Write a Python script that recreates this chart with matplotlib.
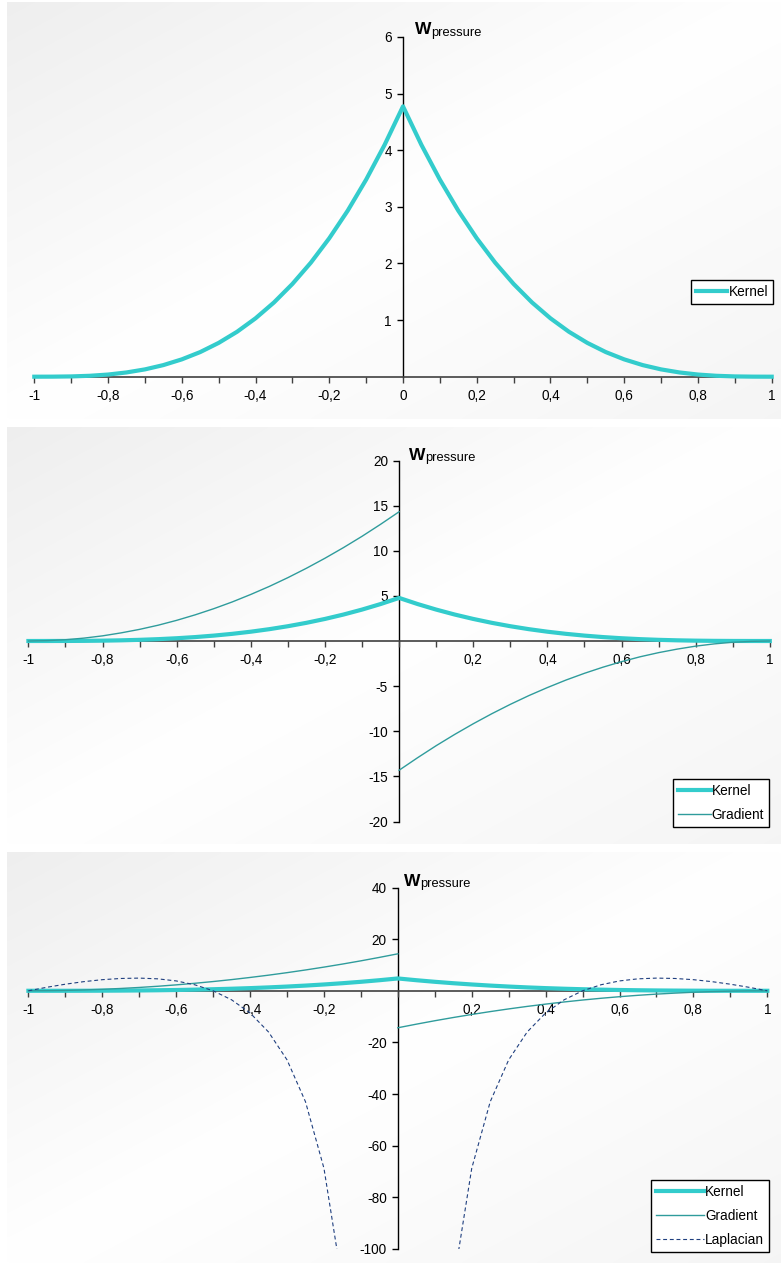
import numpy as np
import matplotlib
matplotlib.use("Agg")
import matplotlib.pyplot as plt

plt.rcParams['font.family'] = ['Liberation Sans', 'DejaVu Sans']

# ---------------- data ----------------
x_left = [-1.00, -0.95, -0.90, -0.85, -0.80, -0.75, -0.70, -0.65, -0.60, -0.55, -0.50,
          -0.45, -0.40, -0.35, -0.30, -0.25, -0.20, -0.15, -0.10, -0.05, 0.00]
x_right = [0.00, 0.05, 0.10, 0.15, 0.20, 0.25, 0.30, 0.35, 0.40, 0.45, 0.50,
           0.55, 0.60, 0.65, 0.70, 0.75, 0.80, 0.85, 0.90, 0.95, 1.00]

kernel_left = [0.000, 0.001, 0.005, 0.016, 0.038, 0.075, 0.129, 0.205, 0.306, 0.435, 0.597,
               0.794, 1.031, 1.311, 1.638, 2.014, 2.445, 2.932, 3.481, 4.094, 4.775]
kernel_right = [4.775, 4.094, 3.481, 2.932, 2.445, 2.014, 1.638, 1.311, 1.031, 0.794, 0.597,
                0.435, 0.306, 0.205, 0.129, 0.075, 0.038, 0.016, 0.005, 0.001, 0.000]

gradient_left = [0.00, 0.04, 0.14, 0.32, 0.57, 0.90, 1.29, 1.75, 2.29, 2.90, 3.58,
                 4.33, 5.16, 6.05, 7.02, 8.06, 9.17, 10.35, 11.60, 12.93, 14.32]
gradient_right = [-14.32, -12.93, -11.60, -10.35, -9.17, -8.06, -7.02, -6.05, -5.16, -4.33, -3.58,
                  -2.90, -2.29, -1.75, -1.29, -0.90, -0.57, -0.32, -0.14, -0.04, 0.00]

laplacian_left = [0.00, 1.36, 2.55, 3.54, 4.30, 4.77, 4.91, 4.63, 3.82, 2.34, 0.00,
                  -3.50, -8.59, -15.96, -26.74, -42.97, -68.75, -113.6, None, None, None]
laplacian_right = [None, None, None, -113.6, -68.75, -42.97, -26.74, -15.96, -8.59, -3.50, 0.00,
                   2.34, 3.82, 4.63, 4.91, 4.77, 4.30, 3.54, 2.55, 1.36, 0.00]

series_labels = ["Kernel", "Gradient", "Laplacian"]
y_title_main = "W"
y_title_sub = "pressure"

x_major = [-1.0, -0.8, -0.6, -0.4, -0.2, 0.0, 0.2, 0.4, 0.6, 0.8, 1.0]
x_minor = [-0.9, -0.7, -0.5, -0.3, -0.1, 0.1, 0.3, 0.5, 0.7, 0.9]
y_ticks_1 = [1, 2, 3, 4, 5, 6]
y_ticks_2 = [-20, -15, -10, -5, 5, 10, 15, 20]
y_ticks_3 = [-100, -80, -60, -40, -20, 20, 40]

# ---------------- styling ----------------
C_KERNEL = '#33cccc'
C_GRAD = '#2f9c9c'
C_LAP = '#1f3f7f'
FS = 9.8

W, H = 781, 1263
fig = plt.figure(figsize=(W / 100, H / 100), dpi=100)
fig.patch.set_facecolor('white')


def fbox(x0, y0, x1, y1):
    return [x0 / W, 1 - y1 / H, (x1 - x0) / W, (y1 - y0) / H]


def background(x0, y0, x1, y1):
    bg = fig.add_axes(fbox(x0, y0, x1, y1), zorder=-10)
    n = 200
    jj, ii = np.meshgrid(np.linspace(0, 1, n), np.linspace(0, 1, n))
    t = (jj + ii) / 2.0
    g = np.where(t < 0.5, 0.935 + 0.065 * (t / 0.5), 1.0 - 0.04 * ((t - 0.5) / 0.5))
    img = np.dstack([g, g, g])
    bg.imshow(img, aspect='auto', extent=[0, 1, 0, 1], interpolation='bilinear')
    bg.set_axis_off()


def arr(v):
    return np.array([np.nan if a is None else a for a in v], dtype=float)


def fmt(v):
    s = f"{v:g}"
    return s.replace('.', ',')


def setup_axes(rect, ylim, yticks, show_zero_label):
    ax = fig.add_axes(rect)
    ax.set_facecolor('none')
    ax.set_xlim(-1, 1)
    ax.set_ylim(*ylim)
    for s in ['top', 'right']:
        ax.spines[s].set_visible(False)
    ax.spines['left'].set_position(('data', 0))
    ax.spines['bottom'].set_position(('data', 0))
    ax.spines['left'].set_color('black')
    ax.spines['bottom'].set_color('#404040')
    ax.spines['left'].set_linewidth(1.0)
    ax.spines['bottom'].set_linewidth(1.2)
    ax.spines['left'].set_zorder(1)
    ax.spines['bottom'].set_zorder(1)
    ax.set_xticks(x_major)
    ax.set_xticks(x_minor, minor=True)
    labels = [fmt(v) if (show_zero_label or abs(v) > 1e-9) else '' for v in x_major]
    ax.set_xticklabels(labels)
    ax.set_yticks(yticks)
    ax.set_yticklabels([fmt(v) for v in yticks])
    ax.tick_params(axis='x', which='both', direction='out', length=4, width=1,
                   color='#404040', labelsize=FS, pad=5)
    ax.tick_params(axis='y', which='major', direction='out', length=4, width=1,
                   color='black', labelsize=FS, pad=4)
    return ax


def ytitle(ax, dx, dy):
    top = ax.get_ylim()[1]
    ax.annotate(y_title_main, xy=(0, top), xycoords='data', xytext=(dx, dy),
                textcoords='offset pixels', ha='left', va='baseline',
                fontsize=12.5, fontweight='bold', annotation_clip=False)
    ax.annotate(y_title_sub, xy=(0, top), xycoords='data', xytext=(dx + 16, dy - 2),
                textcoords='offset pixels', ha='left', va='baseline',
                fontsize=9.3, annotation_clip=False)


def legend(ax, handles, right, bottom, hlen):
    leg = ax.legend(handles=handles, labels=[h.get_label() for h in handles],
                    loc='lower right', bbox_to_anchor=(right / W, 1 - bottom / H),
                    bbox_transform=fig.transFigure, borderaxespad=0,
                    frameon=True, fancybox=False, edgecolor='black', facecolor='white',
                    framealpha=1, fontsize=FS, handlelength=hlen, handletextpad=0.1,
                    labelspacing=0.75, borderpad=0.35)
    leg.get_frame().set_linewidth(1.0)
    return leg


# ---------------- panel backgrounds ----------------
background(7, 2, 781, 419)
background(7, 427, 781, 844)
background(7, 852, 781, 1263)

# ---------------- panel 1 ----------------
ax1 = setup_axes(fbox(34.3, 37, 771.7, 376.7), (0, 6), y_ticks_1, True)
k1, = ax1.plot(x_left + x_right[1:], kernel_left + kernel_right[1:], color=C_KERNEL,
               lw=3.0, label=series_labels[0], clip_on=False, zorder=3,
               solid_joinstyle='round')
ytitle(ax1, 12, 3)
legend(ax1, [k1], 773, 304, 2.3)

# ---------------- panel 2 ----------------
ax2 = setup_axes(fbox(28.4, 460.5, 769.8, 821.5), (-20, 20), y_ticks_2, False)
k2, = ax2.plot(x_left + x_right[1:], kernel_left + kernel_right[1:], color=C_KERNEL,
               lw=3.0, label=series_labels[0], clip_on=False, zorder=3)
g2, = ax2.plot(x_left, gradient_left, color=C_GRAD, lw=1.0, label=series_labels[1],
               clip_on=False, zorder=4)
ax2.plot(x_right, gradient_right, color=C_GRAD, lw=1.0, clip_on=False, zorder=4)
ytitle(ax2, 10, 1)
legend(ax2, [k2, g2], 769, 827, 2.4)

# ---------------- panel 3 ----------------
ax3 = setup_axes(fbox(28.4, 887.5, 767.3, 1249), (-100, 40), y_ticks_3, False)
k3, = ax3.plot(x_left + x_right[1:], kernel_left + kernel_right[1:], color=C_KERNEL,
               lw=3.0, label=series_labels[0], clip_on=False, zorder=3)
g3, = ax3.plot(x_left, gradient_left, color=C_GRAD, lw=1.0, label=series_labels[1],
               clip_on=False, zorder=4)
ax3.plot(x_right, gradient_right, color=C_GRAD, lw=1.0, clip_on=False, zorder=4)
l3, = ax3.plot(x_left, arr(laplacian_left), color=C_LAP, lw=0.8, ls=(0, (3.5, 2.5)),
               label=series_labels[2], zorder=5)
ax3.plot(x_right, arr(laplacian_right), color=C_LAP, lw=0.8, ls=(0, (3.5, 2.5)), zorder=5)
ytitle(ax3, 6, 2)
legend(ax3, [k3, g3, l3], 769, 1252, 3.5)

fig.savefig('out.png', dpi=100, facecolor='white')
